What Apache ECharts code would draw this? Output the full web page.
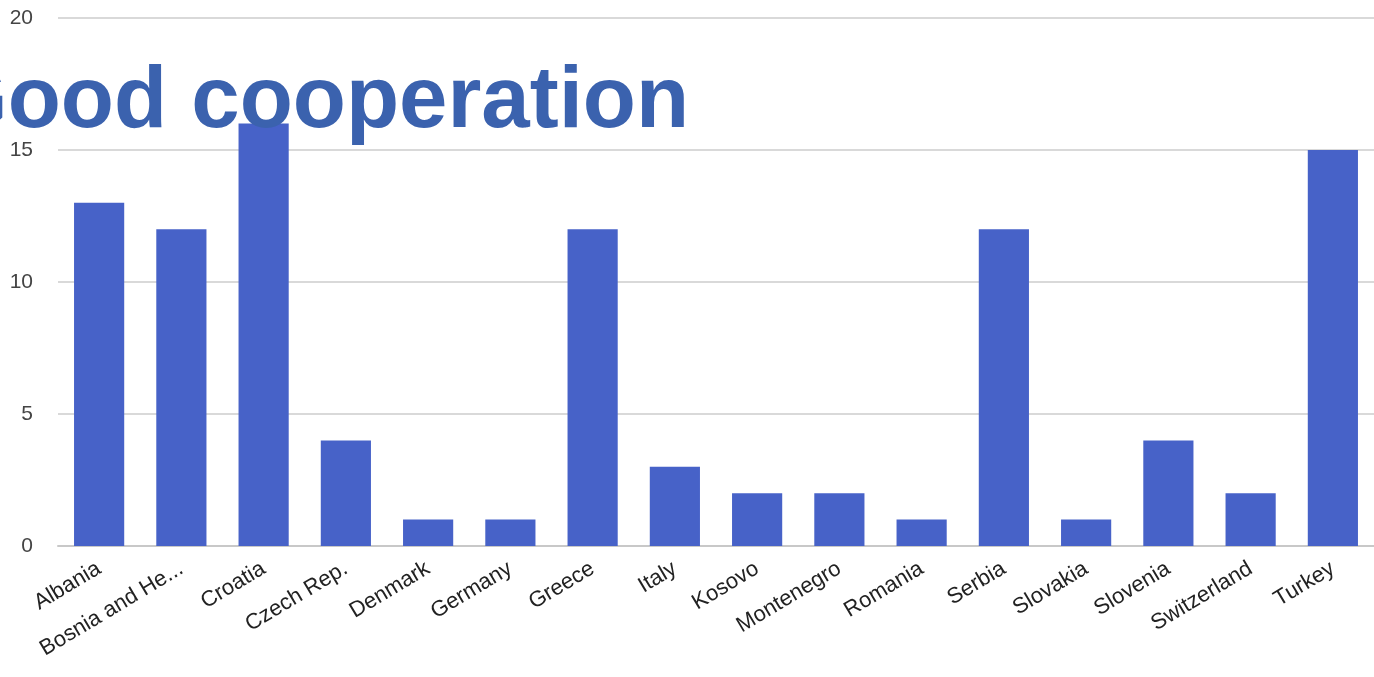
<!DOCTYPE html>
<html><head><meta charset="utf-8">
<script src="https://cdn.jsdelivr.net/npm/echarts@6/dist/echarts.min.js"></script>
<style>html,body{margin:0;padding:0;background:#fff}#c{width:1374px;height:677px}</style>
</head><body><div id="c"></div>
<script>
const categories = ["Albania","Bosnia and Herzegovina","Croatia","Czech Rep.","Denmark","Germany","Greece","Italy","Kosovo","Montenegro","Romania","Serbia","Slovakia","Slovenia","Switzerland","Turkey"];
const values = [13,12,16,4,1,1,12,3,2,2,1,12,1,4,2,15];
const yTicks = [0,5,10,15,20];
const titleText = "Good cooperation";

const chart = echarts.init(document.getElementById('c'));
chart.setOption({
  animation:false,
  grid:{left:58,right:0,top:18,bottom:131,containLabel:false},
  xAxis:{type:'category',data:categories,
    axisLine:{lineStyle:{color:'#c8c8c8',width:2}},axisTick:{show:false},
    axisLabel:{rotate:31,fontSize:22,color:'#222',fontFamily:'Liberation Sans, Arial',margin:21,interval:0,
      formatter:v=>v.length>14?v.slice(0,13)+'...':v}},
  yAxis:{type:'value',min:yTicks[0],max:yTicks[yTicks.length-1],interval:5,
    axisLine:{show:false},axisTick:{show:false},
    splitLine:{lineStyle:{color:'#d9d9d9',width:2}},
    axisLabel:{fontSize:21,color:'#444',fontFamily:'Liberation Sans, Arial',margin:25}},
  series:[{type:'bar',data:values,barWidth:'61%',itemStyle:{color:'#4762C8'}}],
  graphic:[{type:'text',left:-60,top:60,z:100,
    style:{text:titleText,font:'bold 87px "Liberation Sans", Arial',fill:'#3B62AE'}}]
});
</script></body></html>
